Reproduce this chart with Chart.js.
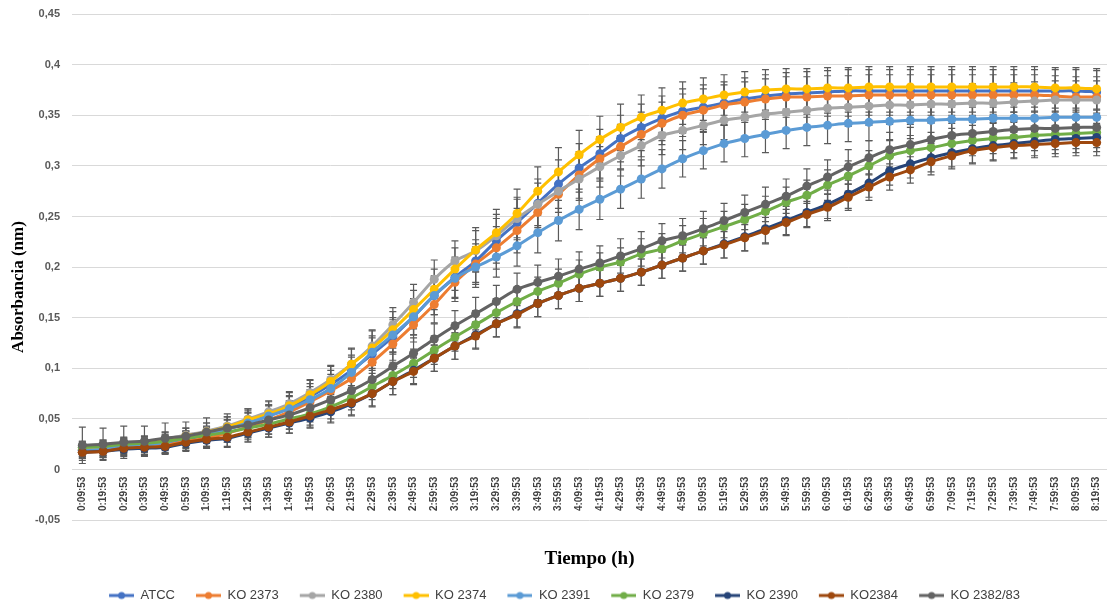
<!DOCTYPE html>
<html>
<head>
<meta charset="utf-8">
<script src="https://cdn.jsdelivr.net/npm/chart.js@4.4.1/dist/chart.umd.min.js"></script>
<style>
  html, body { margin: 0; padding: 0; background: #fff; overflow: hidden; }
  #wrap { width: 1107px; height: 605px; }
</style>
</head>
<body>
<div id="wrap"><canvas id="growthChart" width="1107" height="605"></canvas></div>
<script>
const timeLabels = [
  '0:09:53','0:19:53','0:29:53','0:39:53','0:49:53','0:59:53',
  '1:09:53','1:19:53','1:29:53','1:39:53','1:49:53','1:59:53',
  '2:09:53','2:19:53','2:29:53','2:39:53','2:49:53','2:59:53',
  '3:09:53','3:19:53','3:29:53','3:39:53','3:49:53','3:59:53',
  '4:09:53','4:19:53','4:29:53','4:39:53','4:49:53','4:59:53',
  '5:09:53','5:19:53','5:29:53','5:39:53','5:49:53','5:59:53',
  '6:09:53','6:19:53','6:29:53','6:39:53','6:49:53','6:59:53',
  '7:09:53','7:19:53','7:29:53','7:39:53','7:49:53','7:59:53',
  '8:09:53','8:19:53'
];

const seriesNames = ['ATCC', 'KO 2373', 'KO 2380', 'KO 2374', 'KO 2391', 'KO 2379', 'KO 2390', 'KO2384', 'KO 2382/83'];
const seriesColors = ['#4472C4', '#ED7D31', '#A5A5A5', '#FFC000', '#5B9BD5', '#70AD47', '#264478', '#9E480E', '#636363'];

const atcc = [
  0.019, 0.020, 0.023, 0.024, 0.026, 0.030, 0.034, 0.040, 0.046, 0.053, 0.061, 0.072,
  0.084, 0.098, 0.114, 0.131, 0.151, 0.172, 0.190, 0.206, 0.226, 0.244, 0.263, 0.282,
  0.298, 0.312, 0.327, 0.338, 0.347, 0.354, 0.358, 0.362, 0.366, 0.369, 0.371, 0.372,
  0.373, 0.374, 0.374, 0.374, 0.374, 0.374, 0.374, 0.374, 0.374, 0.374, 0.374, 0.374, 0.374, 0.373
];
const ko2373 = [
  0.017, 0.018, 0.021, 0.022, 0.024, 0.028, 0.031, 0.036, 0.042, 0.049, 0.057, 0.067,
  0.078, 0.090, 0.106, 0.124, 0.143, 0.163, 0.185, 0.203, 0.219, 0.236, 0.254, 0.272,
  0.291, 0.307, 0.319, 0.331, 0.342, 0.350, 0.355, 0.360, 0.363, 0.366, 0.368, 0.368,
  0.369, 0.369, 0.370, 0.370, 0.370, 0.370, 0.370, 0.370, 0.370, 0.370, 0.370, 0.369, 0.368, 0.368
];
const ko2380 = [
  0.022, 0.023, 0.026, 0.027, 0.030, 0.034, 0.038, 0.043, 0.050, 0.057, 0.065, 0.076,
  0.089, 0.104, 0.122, 0.143, 0.165, 0.188, 0.206, 0.216, 0.231, 0.248, 0.262, 0.275,
  0.287, 0.299, 0.310, 0.320, 0.330, 0.335, 0.340, 0.345, 0.348, 0.351, 0.353, 0.355,
  0.357, 0.358, 0.359, 0.360, 0.360, 0.361, 0.361, 0.362, 0.362, 0.363, 0.364, 0.365, 0.365, 0.365
];
const ko2374 = [
  0.020, 0.021, 0.024, 0.026, 0.029, 0.033, 0.037, 0.042, 0.049, 0.055, 0.063, 0.074,
  0.087, 0.104, 0.120, 0.138, 0.158, 0.178, 0.198, 0.217, 0.234, 0.253, 0.275, 0.294,
  0.311, 0.326, 0.338, 0.348, 0.355, 0.362, 0.366, 0.370, 0.373, 0.375, 0.376, 0.376,
  0.377, 0.377, 0.378, 0.378, 0.378, 0.378, 0.378, 0.378, 0.378, 0.378, 0.378, 0.377, 0.377, 0.376
];
const ko2391 = [
  0.019, 0.020, 0.023, 0.024, 0.027, 0.031, 0.035, 0.040, 0.046, 0.053, 0.060, 0.069,
  0.080, 0.096, 0.116, 0.133, 0.151, 0.172, 0.189, 0.200, 0.210, 0.221, 0.234, 0.246,
  0.257, 0.267, 0.277, 0.287, 0.297, 0.307, 0.315, 0.322, 0.327, 0.331, 0.335, 0.338,
  0.340, 0.342, 0.343, 0.344, 0.345, 0.345, 0.346, 0.346, 0.347, 0.347, 0.347, 0.348, 0.348, 0.348
];
const ko2379 = [
  0.022, 0.023, 0.025, 0.026, 0.028, 0.031, 0.034, 0.037, 0.041, 0.045, 0.050, 0.055,
  0.062, 0.071, 0.082, 0.093, 0.105, 0.118, 0.131, 0.143, 0.155, 0.166, 0.176, 0.184,
  0.193, 0.200, 0.205, 0.213, 0.218, 0.226, 0.233, 0.240, 0.247, 0.255, 0.264, 0.271,
  0.281, 0.290, 0.300, 0.310, 0.315, 0.318, 0.322, 0.325, 0.327, 0.328, 0.330, 0.331, 0.332, 0.333
];
const ko2390 = [
  0.017, 0.018, 0.020, 0.021, 0.022, 0.026, 0.029, 0.031, 0.036, 0.041, 0.046, 0.051,
  0.057, 0.065, 0.075, 0.087, 0.098, 0.110, 0.122, 0.133, 0.144, 0.154, 0.164, 0.172,
  0.179, 0.184, 0.189, 0.195, 0.202, 0.209, 0.216, 0.223, 0.230, 0.238, 0.246, 0.254,
  0.262, 0.272, 0.283, 0.295, 0.302, 0.308, 0.313, 0.317, 0.320, 0.322, 0.324, 0.326, 0.327, 0.328
];
const ko2384 = [
  0.017, 0.018, 0.021, 0.022, 0.023, 0.027, 0.030, 0.032, 0.037, 0.042, 0.047, 0.053,
  0.059, 0.066, 0.075, 0.087, 0.097, 0.110, 0.122, 0.132, 0.144, 0.153, 0.164, 0.172,
  0.179, 0.184, 0.189, 0.195, 0.202, 0.209, 0.216, 0.222, 0.229, 0.236, 0.244, 0.252,
  0.259, 0.269, 0.279, 0.289, 0.296, 0.304, 0.310, 0.315, 0.318, 0.320, 0.321, 0.322, 0.323, 0.323
];
const ko2382 = [
  0.024, 0.025, 0.027, 0.028, 0.031, 0.033, 0.037, 0.041, 0.044, 0.049, 0.054, 0.061,
  0.069, 0.078, 0.089, 0.102, 0.115, 0.129, 0.142, 0.154, 0.166, 0.178, 0.185, 0.191,
  0.198, 0.204, 0.211, 0.218, 0.226, 0.231, 0.238, 0.246, 0.254, 0.262, 0.270, 0.280,
  0.289, 0.299, 0.308, 0.316, 0.321, 0.326, 0.330, 0.332, 0.334, 0.336, 0.337, 0.337, 0.338, 0.338
];

// standard deviations (error bars)
const errAtcc = [
  0.007, 0.007, 0.007, 0.007, 0.007, 0.008, 0.008, 0.009, 0.010, 0.011, 0.012, 0.013,
  0.014, 0.015, 0.016, 0.017, 0.018, 0.019, 0.020, 0.021, 0.022, 0.023, 0.024, 0.024,
  0.024, 0.024, 0.023, 0.023, 0.022, 0.022, 0.022, 0.021, 0.021, 0.021, 0.021, 0.021,
  0.021, 0.021, 0.021, 0.021, 0.021, 0.021, 0.021, 0.021, 0.021, 0.021, 0.021, 0.021, 0.021, 0.021
];
const err2373 = [
  0.006, 0.006, 0.006, 0.007, 0.007, 0.007, 0.008, 0.009, 0.010, 0.010, 0.011, 0.012,
  0.013, 0.014, 0.015, 0.016, 0.017, 0.018, 0.019, 0.020, 0.021, 0.022, 0.022, 0.023,
  0.023, 0.022, 0.022, 0.022, 0.021, 0.021, 0.021, 0.020, 0.020, 0.020, 0.020, 0.020,
  0.020, 0.020, 0.020, 0.020, 0.020, 0.020, 0.020, 0.020, 0.020, 0.020, 0.020, 0.020, 0.020, 0.020
];
const err2380 = [
  0.006, 0.006, 0.006, 0.006, 0.007, 0.007, 0.008, 0.009, 0.010, 0.011, 0.012, 0.013,
  0.014, 0.015, 0.016, 0.017, 0.018, 0.019, 0.020, 0.020, 0.021, 0.021, 0.021, 0.021,
  0.021, 0.020, 0.020, 0.020, 0.019, 0.019, 0.019, 0.019, 0.019, 0.019, 0.019, 0.019,
  0.019, 0.019, 0.019, 0.019, 0.019, 0.019, 0.019, 0.019, 0.019, 0.019, 0.019, 0.019, 0.019, 0.019
];
const err2374 = [
  0.007, 0.007, 0.007, 0.007, 0.008, 0.008, 0.009, 0.010, 0.011, 0.012, 0.013, 0.014,
  0.015, 0.016, 0.017, 0.018, 0.019, 0.020, 0.021, 0.022, 0.023, 0.024, 0.024, 0.024,
  0.024, 0.023, 0.023, 0.022, 0.022, 0.021, 0.021, 0.020, 0.020, 0.020, 0.020, 0.020,
  0.020, 0.020, 0.020, 0.020, 0.020, 0.020, 0.020, 0.020, 0.020, 0.020, 0.020, 0.020, 0.020, 0.020
];
const err2391 = [
  0.006, 0.006, 0.006, 0.006, 0.007, 0.007, 0.008, 0.009, 0.010, 0.011, 0.012, 0.013,
  0.014, 0.015, 0.016, 0.017, 0.018, 0.019, 0.020, 0.020, 0.020, 0.020, 0.020, 0.020,
  0.020, 0.020, 0.019, 0.019, 0.019, 0.018, 0.018, 0.018, 0.018, 0.018, 0.018, 0.018,
  0.018, 0.018, 0.018, 0.018, 0.018, 0.018, 0.018, 0.018, 0.018, 0.018, 0.018, 0.018, 0.018, 0.018
];
const err2379 = [
  0.006, 0.006, 0.006, 0.006, 0.007, 0.007, 0.008, 0.008, 0.009, 0.010, 0.010, 0.011,
  0.012, 0.012, 0.013, 0.013, 0.014, 0.014, 0.014, 0.014, 0.014, 0.014, 0.014, 0.014,
  0.014, 0.014, 0.014, 0.015, 0.015, 0.015, 0.015, 0.015, 0.015, 0.015, 0.015, 0.015,
  0.015, 0.015, 0.015, 0.015, 0.015, 0.015, 0.015, 0.015, 0.015, 0.015, 0.015, 0.015, 0.015, 0.015
];
const err2390 = [
  0.006, 0.006, 0.006, 0.006, 0.006, 0.007, 0.007, 0.008, 0.008, 0.009, 0.010, 0.010,
  0.011, 0.012, 0.012, 0.013, 0.013, 0.013, 0.013, 0.013, 0.013, 0.013, 0.013, 0.013,
  0.013, 0.013, 0.013, 0.013, 0.013, 0.013, 0.013, 0.014, 0.014, 0.014, 0.014, 0.014,
  0.014, 0.014, 0.014, 0.014, 0.014, 0.014, 0.014, 0.014, 0.014, 0.014, 0.014, 0.014, 0.014, 0.014
];
const err2384 = [
  0.008, 0.008, 0.008, 0.008, 0.008, 0.009, 0.009, 0.010, 0.010, 0.010, 0.011, 0.011,
  0.012, 0.012, 0.013, 0.013, 0.013, 0.013, 0.013, 0.013, 0.013, 0.013, 0.013, 0.013,
  0.013, 0.013, 0.013, 0.013, 0.013, 0.013, 0.013, 0.013, 0.013, 0.013, 0.013, 0.013,
  0.013, 0.013, 0.013, 0.013, 0.013, 0.013, 0.013, 0.013, 0.013, 0.013, 0.013, 0.013, 0.013, 0.013
];
const err2382 = [
  0.018, 0.016, 0.016, 0.015, 0.015, 0.014, 0.014, 0.014, 0.014, 0.014, 0.014, 0.014,
  0.014, 0.014, 0.014, 0.014, 0.015, 0.015, 0.015, 0.016, 0.016, 0.016, 0.017, 0.017,
  0.017, 0.017, 0.017, 0.017, 0.017, 0.017, 0.017, 0.017, 0.017, 0.017, 0.017, 0.017,
  0.017, 0.017, 0.017, 0.017, 0.017, 0.017, 0.017, 0.017, 0.017, 0.017, 0.017, 0.017, 0.017, 0.017
];

const seriesValues = [atcc, ko2373, ko2380, ko2374, ko2391, ko2379, ko2390, ko2384, ko2382];
const seriesErrors = [errAtcc, err2373, err2380, err2374, err2391, err2379, err2390, err2384, err2382];

// little "line + dot" picture for each legend entry
function legendMarker(color) {
  const c = document.createElement('canvas');
  c.width = 40; c.height = 12;
  const g = c.getContext('2d');
  g.strokeStyle = color; g.lineWidth = 3;
  g.beginPath(); g.moveTo(15, 6); g.lineTo(40, 6); g.stroke();
  g.fillStyle = color;
  g.beginPath(); g.arc(27.5, 6, 3.5, 0, Math.PI * 2); g.fill();
  return c;
}

const datasets = seriesNames.map((name, i) => ({
  label: name,
  data: seriesValues[i],
  errors: seriesErrors[i],
  borderColor: seriesColors[i],
  backgroundColor: seriesColors[i],
  borderWidth: 3,
  pointRadius: 4.5,
  pointHoverRadius: 4.5,
  pointBorderWidth: 0,
  pointStyle: 'circle',
  legendMarker: legendMarker(seriesColors[i]),
  tension: 0.35,
  fill: false,
  order: seriesNames.length - i   // later series drawn on top, like Excel
}));

const errorBars = {
  id: 'errorBars',
  beforeDatasetsDraw(chart) {
    const ctx = chart.ctx;
    const y = chart.scales.y;
    ctx.save();
    ctx.strokeStyle = '#5a5a5a';
    ctx.lineWidth = 1.2;
    chart.data.datasets.forEach((ds, di) => {
      const meta = chart.getDatasetMeta(di);
      meta.data.forEach((pt, i) => {
        const v = ds.data[i], e = ds.errors[i];
        const top = y.getPixelForValue(v + e);
        const bot = y.getPixelForValue(v - e);
        ctx.beginPath();
        ctx.moveTo(pt.x, top); ctx.lineTo(pt.x, bot);
        ctx.moveTo(pt.x - 3.5, top); ctx.lineTo(pt.x + 3.5, top);
        ctx.moveTo(pt.x - 3.5, bot); ctx.lineTo(pt.x + 3.5, bot);
        ctx.stroke();
      });
    });
    ctx.restore();
  }
};

const yTitle = {
  id: 'yTitle',
  afterDraw(chart) {
    const ctx = chart.ctx;
    ctx.save();
    ctx.translate(19, 287);
    ctx.rotate(-Math.PI / 2);
    ctx.font = "bold 17px 'Liberation Serif', 'Times New Roman', serif";
    ctx.fillStyle = '#000';
    ctx.textAlign = 'center';
    ctx.textBaseline = 'middle';
    ctx.fillText('Absorbancia (nm)', 0, 0);
    ctx.restore();
  }
};

const ctx = document.getElementById('growthChart').getContext('2d');
new Chart(ctx, {
  type: 'line',
  data: { labels: timeLabels, datasets: datasets },
  plugins: [errorBars, yTitle],
  options: {
    responsive: false,
    animation: false,
    // the original plot runs a few pixels past the right edge of the picture
    layout: { autoPadding: false, padding: { top: 14, left: 0, right: -7, bottom: -7 } },
    plugins: {
      tooltip: { enabled: false },
      title: {
        display: true,
        text: 'Tiempo (h)',
        position: 'bottom',
        weight: 500,
        fullSize: false,
        color: '#000',
        font: { family: "'Liberation Serif', 'Times New Roman', serif", size: 19, weight: 'bold' },
        padding: { top: 27, bottom: 13 }
      },
      legend: {
        position: 'bottom',
        labels: {
          usePointStyle: true,
          pointStyleWidth: 40,
          padding: 6,
          color: '#404040',
          font: { family: "'Liberation Sans', Arial, sans-serif", size: 13 },
          sort: (a, b) => a.datasetIndex - b.datasetIndex,
          generateLabels: (chart) => chart.data.datasets.map((ds, i) => ({
            text: ds.label,
            datasetIndex: i,
            pointStyle: ds.legendMarker,
            fillStyle: ds.borderColor,
            strokeStyle: ds.borderColor,
            lineWidth: 0,
            fontColor: '#404040',
            hidden: false
          }))
        }
      }
    },
    scales: {
      x: {
        position: { y: 0 },
        offset: true,
        afterFit: (scale) => { scale.paddingLeft = 0; scale.paddingRight = 0; },
        grid: { display: false, drawTicks: false },
        border: { display: false },
        ticks: {
          autoSkip: false,
          minRotation: 90,
          maxRotation: 90,
          padding: 7,
          color: '#404040',
          font: { family: "'Liberation Sans', Arial, sans-serif", size: 10, weight: 'bold' }
        }
      },
      y: {
        min: -0.05,
        max: 0.45,
        afterFit: (scale) => { scale.width = 72; scale.paddingTop = 0; scale.paddingBottom = 0; },
        grid: { color: '#d9d9d9', lineWidth: 1, drawTicks: false },
        border: { display: false },
        ticks: {
          stepSize: 0.05,
          padding: 12,
          color: '#595959',
          font: { family: "'Liberation Sans', Arial, sans-serif", size: 11, weight: 'bold' },
          callback: (v) => String(Math.round(v * 100) / 100).replace('.', ',')
        }
      }
    }
  }
});
</script>
</body>
</html>
